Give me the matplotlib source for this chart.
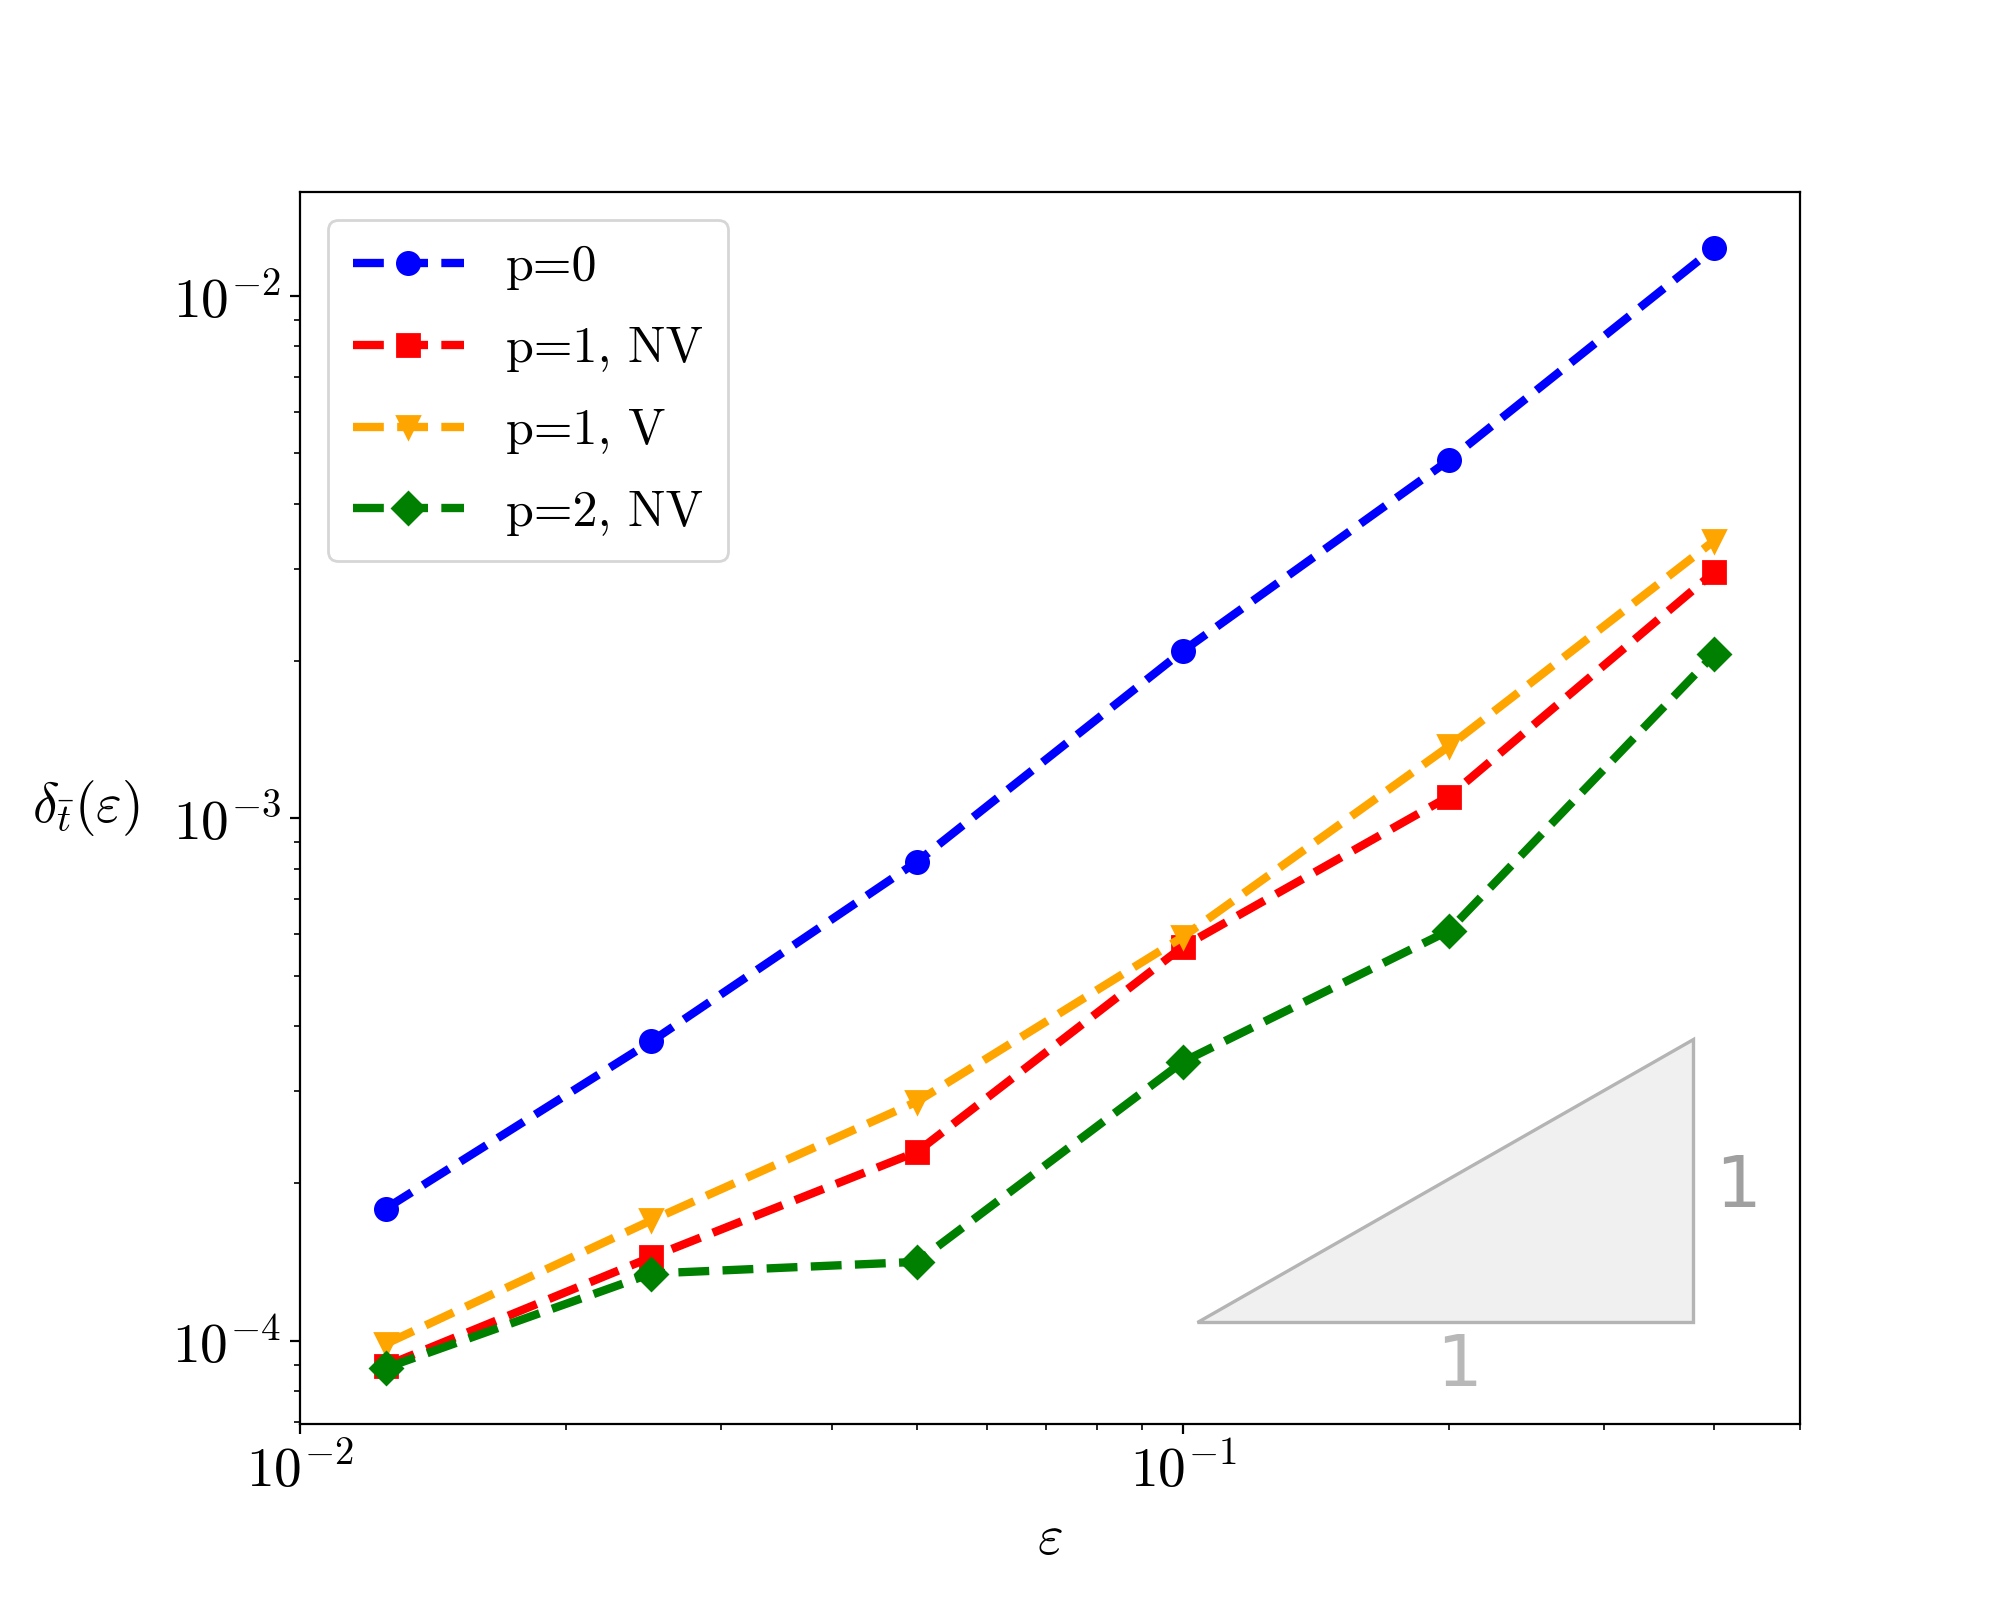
import numpy as np
import matplotlib
matplotlib.use("Agg")
import matplotlib.pyplot as plt

plt.rcParams.update({
    "font.family": "serif",
    "font.serif": ["cmr10"],
    "mathtext.fontset": "cm",
    "axes.formatter.use_mathtext": True,
    "font.size": 20,
})

eps = [0.0125, 0.025, 0.05, 0.1, 0.2, 0.4]
err_p0 = [1.79e-4, 3.74e-4, 8.26e-4, 2.09e-3, 4.84e-3, 1.234e-2]
err_p1_nv = [8.95e-5, 1.446e-4, 2.30e-4, 5.68e-4, 1.10e-3, 2.96e-3]
err_p1_v = [9.86e-5, 1.70e-4, 2.87e-4, 5.93e-4, 1.372e-3, 3.40e-3]
err_p2_nv = [8.87e-5, 1.345e-4, 1.416e-4, 3.42e-4, 6.09e-4, 2.06e-3]

# slope triangle
tri_x = [0.1037, 0.378, 0.378]
tri_y = [1.088e-4, 1.088e-4, 3.78e-4]

fig = plt.figure(figsize=(10, 8), dpi=200)
ax = fig.add_subplot(111)
fig.subplots_adjust(left=0.15, right=0.9, bottom=0.11, top=0.88)

ax.loglog(eps, err_p0, "--o", color="blue", lw=3, ms=8, label="p=0")
ax.loglog(eps, err_p1_nv, "--s", color="red", lw=3, ms=8, label="p=1, NV")
ax.loglog(eps, err_p1_v, "--v", color="orange", lw=3, ms=8, label="p=1, V")
ax.loglog(eps, err_p2_nv, "--D", color="green", lw=3, ms=8, label="p=2, NV")

ax.fill(tri_x, tri_y, facecolor="#f0f0f0", edgecolor="#b4b4b4", lw=1.2, zorder=0)
ax.text(np.sqrt(tri_x[0] * tri_x[1]) * 1.037, tri_y[0] * 0.82, "1", color="#b8b8b8",
        fontsize=26, family="DejaVu Sans", ha="center", va="center")
ax.text(tri_x[1] * 1.125, np.sqrt(tri_y[1] * tri_y[2]) * 0.97, "1", color="#a0a0a0",
        fontsize=26, family="DejaVu Sans", ha="center", va="center")

ax.set_xlim(0.01, 0.5)
ax.set_xlabel(r"$\varepsilon$")
ax.set_ylabel(r"$\delta_{\bar{t}}(\varepsilon)$", rotation=0, va="center", ha="center")
ax.yaxis.set_label_coords(-0.143, 0.5)
ax.xaxis.set_label_coords(0.5, -0.074)

ax.legend(loc="upper left", fontsize=18, labelspacing=0.72, handlelength=2.22,
          handletextpad=0.85, borderaxespad=0.55, borderpad=0.5)

plt.savefig("out.png", dpi=200)
